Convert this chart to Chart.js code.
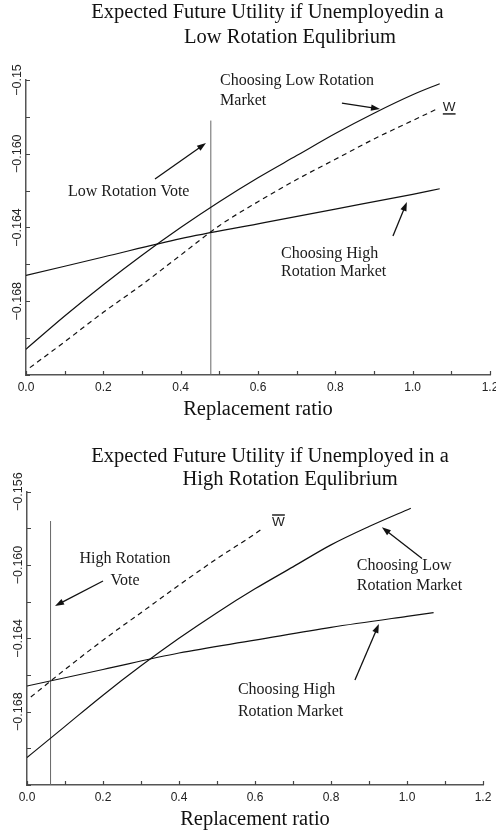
<!DOCTYPE html>
<html>
<head>
<meta charset="utf-8">
<script src="https://cdn.jsdelivr.net/npm/chart.js@4.4.1/dist/chart.umd.min.js"></script>
<style>
  html, body { margin: 0; padding: 0; background: #fff; }
  #wrap1 { position: absolute; left: 0; top: 0; width: 496px; height: 422px; }
  #wrap2 { position: absolute; left: 0; top: 422px; width: 496px; height: 413px; }
</style>
</head>
<body>
<div id="wrap1"><canvas id="c1" width="496" height="422"></canvas></div>
<div id="wrap2"><canvas id="c2" width="496" height="413"></canvas></div>
<script>
// ---- top panel: low rotation equilibrium ----
const lowX1 = [0, 0.1, 0.2, 0.3, 0.4, 0.5, 0.6, 0.7, 0.8, 0.9, 1.0, 1.07];
const lowY1 = [-0.1706, -0.1688, -0.1671, -0.1655, -0.1640, -0.1626, -0.1613, -0.1601, -0.1589, -0.1578, -0.1568, -0.1562];
const highX1 = [0, 0.2, 0.4, 0.6, 0.8, 1.0, 1.07];
const highY1 = [-0.1666, -0.1656, -0.1646, -0.1638, -0.1630, -0.1622, -0.1619];
const wX1 = [0.01, 0.1, 0.2, 0.3, 0.4, 0.5, 0.6, 0.7, 0.8, 0.9, 1.0, 1.06];
const wY1 = [-0.1716, -0.1702, -0.1686, -0.1671, -0.1655, -0.1639, -0.1626, -0.1614, -0.1603, -0.1592, -0.1582, -0.1576];
const voteX1 = 0.478;
const voteY1 = [-0.172, -0.1582];

// ---- bottom panel: high rotation equilibrium ----
const lowX2 = [0, 0.1, 0.2, 0.3, 0.4, 0.5, 0.6, 0.7, 0.8, 0.9, 1.01];
const lowY2 = [-0.1705, -0.1688, -0.1671, -0.1655, -0.1640, -0.1626, -0.1613, -0.1601, -0.1589, -0.1579, -0.1569];
const highX2 = [0, 0.2, 0.4, 0.6, 0.8, 1.0, 1.07];
const highY2 = [-0.1666, -0.1657, -0.1648, -0.1641, -0.1634, -0.1628, -0.1626];
const wX2 = [0.01, 0.1, 0.2, 0.3, 0.4, 0.5, 0.6, 0.62];
const wY2 = [-0.1672, -0.1657, -0.1641, -0.1626, -0.1611, -0.15965, -0.1583, -0.1580];
const voteX2 = 0.062;
const voteY2 = [-0.172, -0.1576];

// axes
const xMin = 0, xMax = 1.2, xStep = 0.1;
const yMin = -0.172, yMax = -0.156, yStep = 0.002;
const yTickVals = [-0.156, -0.160, -0.164, -0.168];
const yTickText1 = ['\u22120.15', '\u22120.160', '\u22120.164', '\u22120.168'];
const yTickText2 = ['\u22120.156', '\u22120.160', '\u22120.164', '\u22120.168'];

const pts = (xs, ys) => xs.map((x, i) => ({ x: x, y: ys[i] }));

function drawArrow(ctx, x0, y0, x1, y1) {
  const a = Math.atan2(y1 - y0, x1 - x0);
  const len = 9, hw = 3.2;
  ctx.beginPath();
  ctx.moveTo(x0, y0);
  ctx.lineTo(x1 - Math.cos(a) * len * 0.8, y1 - Math.sin(a) * len * 0.8);
  ctx.stroke();
  ctx.beginPath();
  ctx.moveTo(x1, y1);
  ctx.lineTo(x1 - Math.cos(a) * len + Math.sin(a) * hw, y1 - Math.sin(a) * len - Math.cos(a) * hw);
  ctx.lineTo(x1 - Math.cos(a) * len - Math.sin(a) * hw, y1 - Math.sin(a) * len + Math.cos(a) * hw);
  ctx.closePath();
  ctx.fill();
}

function decor(spec) {
  return {
    id: 'decor',
    afterDraw(chart) {
      const { ctx, scales: { x, y } } = chart;
      ctx.save();
      // inward tick marks
      ctx.strokeStyle = '#444';
      ctx.lineWidth = 1.2;
      ctx.beginPath();
      x.ticks.forEach(t => {
        const px = Math.round(x.getPixelForValue(t.value)) + 0.5;
        ctx.moveTo(px, y.bottom);
        ctx.lineTo(px, y.bottom - 4);
      });
      y.ticks.forEach(t => {
        const py = Math.round(y.getPixelForValue(t.value)) + 0.5;
        ctx.moveTo(x.left, py);
        ctx.lineTo(x.left + 4, py);
      });
      ctx.stroke();

      // rotated y labels
      ctx.fillStyle = '#222';
      ctx.font = '12.5px "Liberation Sans", Arial, sans-serif';
      ctx.textAlign = 'center';
      ctx.textBaseline = 'middle';
      spec.yText.forEach((txt, i) => {
        ctx.save();
        ctx.translate(x.left - 8, y.getPixelForValue(yTickVals[i]));
        ctx.rotate(-Math.PI / 2);
        ctx.fillText(txt, 0, 0);
        ctx.restore();
      });

      // panel title
      ctx.fillStyle = '#111';
      ctx.font = '20.5px "Liberation Serif", "Times New Roman", serif';
      spec.title.forEach(t => ctx.fillText(t[0], t[1], t[2]));

      // notes
      ctx.font = '16px "Liberation Serif", "Times New Roman", serif';
      ctx.fillStyle = '#1a1a1a';
      spec.notes.forEach(n => {
        ctx.textAlign = n[3] || 'left';
        ctx.fillText(n[0], x.getPixelForValue(n[1]), y.getPixelForValue(n[2]));
      });

      // arrows
      ctx.strokeStyle = '#111';
      ctx.fillStyle = '#111';
      ctx.lineWidth = 1.3;
      spec.arrows.forEach(a => drawArrow(ctx,
        x.getPixelForValue(a[0]), y.getPixelForValue(a[1]),
        x.getPixelForValue(a[2]), y.getPixelForValue(a[3])));

      // W label with bar
      const wx = x.getPixelForValue(spec.w.x), wy = y.getPixelForValue(spec.w.y);
      ctx.font = '13.5px "Liberation Sans", Arial, sans-serif';
      ctx.textAlign = 'left';
      ctx.fillStyle = '#222';
      ctx.fillText('W', wx, wy);
      const ww = ctx.measureText('W').width;
      ctx.lineWidth = 1.5;
      ctx.strokeStyle = '#222';
      ctx.beginPath();
      const by = spec.w.under ? wy + 7 : wy - 7.5;
      ctx.moveTo(wx, by);
      ctx.lineTo(wx + ww, by);
      ctx.stroke();
      ctx.restore();
    }
  };
}

function makeChart(id, d) {
  const line = (data, dash) => ({
    data: data, showLine: true, borderColor: '#111', borderWidth: 1.2,
    borderDash: dash || [], pointRadius: 0, cubicInterpolationMode: 'monotone', fill: false
  });
  return new Chart(document.getElementById(id), {
    type: 'scatter',
    data: {
      datasets: [
        line(pts(d.lowX, d.lowY)),
        line(pts(d.highX, d.highY)),
        line(pts(d.wX, d.wY), [5, 4]),
        { data: pts([d.voteX, d.voteX], d.voteY), showLine: true, borderColor: '#666', borderWidth: 1, pointRadius: 0 }
      ]
    },
    options: {
      responsive: false,
      animation: false,
      events: [],
      layout: { padding: d.pad },
      plugins: { legend: { display: false }, tooltip: { enabled: false } },
      scales: {
        x: {
          type: 'linear', min: xMin, max: xMax,
          grid: { drawOnChartArea: false, drawTicks: false },
          border: { color: '#555', width: 1.5 },
          ticks: {
            stepSize: xStep, autoSkip: false, maxRotation: 0, padding: 5, color: '#222',
            font: { family: '"Liberation Sans", Arial, sans-serif', size: 12 },
            callback: (v, i) => (i % 2 === 0 ? (i * xStep).toFixed(1) : '')
          },
          title: {
            display: true, text: 'Replacement ratio', color: '#111', padding: 0,
            font: { family: '"Liberation Serif", "Times New Roman", serif', size: 20.5, lineHeight: 1 }
          },
          afterFit: s => { s.height = d.xh; s.paddingLeft = 0; s.paddingRight = 0; }
        },
        y: {
          type: 'linear', min: yMin, max: yMax,
          grid: { drawOnChartArea: false, drawTicks: false },
          border: { color: '#555', width: 1.5 },
          ticks: { stepSize: yStep, display: false },
          afterFit: s => { s.width = d.yw; s.paddingTop = 0; s.paddingBottom = 0; }
        }
      }
    },
    plugins: [decor(d.decor)]
  });
}

makeChart('c1', {
  lowX: lowX1, lowY: lowY1, highX: highX1, highY: highY1, wX: wX1, wY: wY1,
  voteX: voteX1, voteY: voteY1,
  pad: { top: 80, right: 6, left: 0, bottom: 1.75 }, xh: 45.25, yw: 26,
  decor: {
    yText: yTickText1,
    title: [['Expected Future Utility if Unemployedin a', 267.5, 13], ['Low Rotation Equlibrium', 290, 38]],
    notes: [
      ['Choosing Low Rotation', 0.502, -0.15603],
      ['Market', 0.502, -0.15711],
      ['Low Rotation Vote', 0.1086, -0.16207],
      ['Choosing High', 0.6594, -0.16544],
      ['Rotation Market', 0.6594, -0.16639]
    ],
    arrows: [
      [0.817, -0.15725, 0.9155, -0.15757],
      [0.3336, -0.16137, 0.4655, -0.15942],
      [0.949, -0.16446, 0.985, -0.16262]
    ],
    w: { x: 1.078, y: -0.15746, under: true }
  }
});

makeChart('c2', {
  lowX: lowX2, lowY: lowY2, highX: highX2, highY: highY2, wX: wX2, wY: wY2,
  voteX: voteX2, voteY: voteY2,
  pad: { top: 69.7, right: 13, left: 0, bottom: 4.75 }, xh: 45.25, yw: 27,
  decor: {
    yText: yTickText2,
    title: [['Expected Future Utility if Unemployed in a', 270, 35], ['High Rotation Equlibrium', 290, 58]],
    notes: [
      ['High Rotation', 0.258, -0.15964, 'center'],
      ['Vote', 0.258, -0.16087, 'center'],
      ['Choosing Low', 0.868, -0.16005],
      ['Rotation Market', 0.868, -0.16116],
      ['Choosing High', 0.555, -0.16682],
      ['Rotation Market', 0.555, -0.16802]
    ],
    arrows: [
      [0.2, -0.16087, 0.0737, -0.16223],
      [1.0395, -0.15964, 0.934, -0.15794],
      [0.863, -0.16627, 0.926, -0.16322]
    ],
    w: { x: 0.645, y: -0.15768, under: false }
  }
});
</script>
</body>
</html>
